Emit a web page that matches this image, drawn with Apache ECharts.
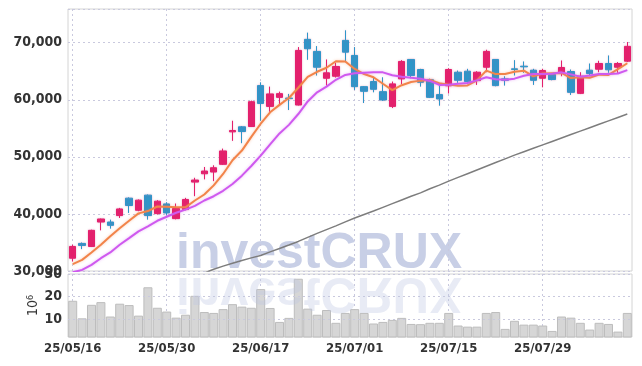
<!DOCTYPE html>
<html><head><meta charset="utf-8">
<script src="https://cdn.jsdelivr.net/npm/echarts@6/dist/echarts.min.js"></script>
<style>html,body{margin:0;padding:0;background:#fff}#c{width:642px;height:366px}</style>
</head><body><div id="c"></div>
<script>
const dates = ['25/05/16','25/05/19','25/05/20','25/05/21','25/05/22','25/05/23','25/05/26','25/05/27','25/05/28','25/05/29',
'25/05/30','25/06/02','25/06/04','25/06/05','25/06/09','25/06/10','25/06/11','25/06/12','25/06/13','25/06/16',
'25/06/17','25/06/18','25/06/19','25/06/20','25/06/23','25/06/24','25/06/25','25/06/26','25/06/27','25/06/30',
'25/07/01','25/07/02','25/07/03','25/07/04','25/07/07','25/07/08','25/07/09','25/07/10','25/07/11','25/07/14',
'25/07/15','25/07/16','25/07/17','25/07/18','25/07/21','25/07/22','25/07/23','25/07/24','25/07/25','25/07/28',
'25/07/29','25/07/30','25/07/31','25/08/01','25/08/04','25/08/05','25/08/06','25/08/07','25/08/08','25/08/11'];
const openP  = [32240,34830,34300,38580,38580,39710,42760,40640,43290,40060,41750,39180,40770,45580,47040,47340,48690,54380,55260,55310,
62480,58840,60420,60300,59080,70580,68470,63770,64120,70400,67760,62300,63190,61420,58840,63660,67060,65300,63500,60900,
62450,64820,65000,63360,65700,67060,63660,65420,65880,65180,63770,64420,64820,64950,61120,65180,65350,66350,65700,66760];
const closeP = [34300,34480,37120,39110,38000,40870,41470,42410,39710,42230,40170,40950,42530,45930,47510,48090,51030,54610,54430,59660,
59360,61020,61070,60200,68640,68940,65700,64720,65830,68340,62300,61480,61830,59960,62780,66710,64240,63060,60420,60140,
65300,63410,63190,64820,68470,62480,63410,65300,65770,63410,65120,63540,65650,61300,64120,64590,66350,65250,66350,69350];
const lowP   = [31660,33830,34200,37120,37420,39290,40170,40470,39000,39890,39760,39050,40640,43110,46050,45750,48570,52800,52390,55260,
56320,57900,58960,58200,59000,67000,64240,62480,63890,66700,61720,59430,61300,59800,58550,62710,63770,62300,60300,58960,
61100,62960,62780,62600,64820,62360,62480,64240,64720,62600,62180,63410,64120,60840,61000,64120,64820,64720,64720,66600];
const highP  = [34600,35000,37240,39180,39000,41050,42900,42530,43410,42410,42050,41820,42810,46330,48220,48520,51440,56320,55400,59840,
63060,62300,61420,61020,69230,71760,69400,67060,66480,72170,69230,62400,63940,63940,63190,66940,67100,65420,63700,62780,
65530,65120,65420,65000,68760,67060,64120,66940,66710,65420,65420,64590,66880,65300,64820,66350,66830,67760,66600,70110];
const ma5 = [31200,31950,33250,34600,36100,37500,38800,40100,40500,41300,41250,41150,41150,42350,43400,45000,47000,49400,51100,53500,
55800,57800,59100,60300,62100,64000,64900,65600,66750,66700,65400,64500,63950,62800,61700,62550,63100,63350,63450,62900,
62650,62450,62500,63400,65100,64500,64500,64900,65100,64100,64600,64650,64700,63800,63950,63850,64400,64350,65350,66400];
const ma10 = [29780,30200,31080,32240,33250,34600,35770,36950,37830,38800,39500,40200,40750,41400,42350,43100,44050,45250,46700,48400,
50200,52200,54100,55600,57500,59700,61300,62300,63500,64350,64650,64750,64800,64800,64300,64050,63850,63700,63300,62600,
62650,62800,62950,63400,63950,63600,63500,63700,64200,64500,64500,64550,64800,64450,64050,64250,64500,64500,64600,65200];
const maLong = [null,null,null,null,null,null,null,null,null,null,null,null,null,null,29650,30300,30850,31350,31850,32300,
32720,33350,33950,34550,35180,35900,36600,37250,37900,38600,39290,39900,40500,41150,41800,42450,43100,43690,44400,45050,
45750,46400,47050,47700,48350,49000,49650,50300,50900,51500,52090,52700,53300,53900,54500,55100,55700,56300,56900,57500];
const volume = [18.1,10.3,16.3,17.5,11.1,16.8,16.2,11.5,24.1,15.0,13.3,10.6,11.9,20.3,13.1,12.7,14.4,16.6,15.5,15.0,
23.3,14.9,8.7,10.5,27.9,14.6,11.9,14.0,8.3,12.7,14.4,12.7,8.0,8.7,9.6,10.5,7.8,7.7,8.3,8.3,
12.7,7.1,6.6,6.6,12.7,13.1,5.6,9.2,7.5,7.5,7.1,4.7,11.1,10.6,8.3,5.3,8.3,7.8,4.4,12.7];
const priceTicks = [30000,40000,50000,60000,70000];
const volTicks = [10,20,30];

const FONT = "'Liberation Sans Narrow','DejaVu Sans Condensed',sans-serif";
const candles = openP.map((o,i)=>[o, closeP[i], lowP[i], highP[i]]);
const chart = echarts.init(document.getElementById('c'), null, {renderer:'canvas'});
const gridLine = {show:true, lineStyle:{color:'#c9c9de', type:[2,3], width:1}};
chart.setOption({
  animation:false,
  backgroundColor:'#fff',
  grid:[
    {left:68, right:10, top:9, height:262, show:true, borderColor:'#d4d4d4', borderWidth:1},
    {left:68, right:10, top:274, height:63, show:true, borderColor:'#d4d4d4', borderWidth:1}
  ],
  xAxis:[
    {type:'category', data:dates, gridIndex:0, boundaryGap:true,
     axisLine:{show:false}, axisTick:{show:false}, axisLabel:{show:false},
     splitLine:Object.assign({interval:9, alignWithLabel:true}, gridLine)},
    {type:'category', data:dates, gridIndex:1, boundaryGap:true,
     axisLine:{show:false}, axisTick:{show:false},
     axisLabel:{interval:9, margin:5, fontFamily:FONT, fontSize:13, fontWeight:'bold', color:'#333'},
     splitLine:Object.assign({interval:9, alignWithLabel:true}, gridLine)}
  ],
  yAxis:[
    {type:'value', gridIndex:0, min:priceTicks[0], max:75900, interval:10000,
     axisLine:{show:false}, axisTick:{show:false},
     axisLabel:{margin:6, showMaxLabel:false, fontFamily:FONT, fontSize:14, fontWeight:'bold', color:'#333',
       formatter:v=>v.toLocaleString('en-US')},
     splitLine:gridLine},
    {type:'value', gridIndex:1, min:2, max:30, interval:2,
     axisLine:{show:false}, axisTick:{show:false},
     axisLabel:{margin:6, fontFamily:FONT, fontSize:14, fontWeight:'bold', color:'#333',
       formatter:v=>volTicks.indexOf(v)>=0 ? String(v) : ''},
     splitLine:{show:false},
     name:'10{s|6}', nameLocation:'middle', nameGap:28, nameRotate:90, nameMoveOverlap:false,
     nameTextStyle:{fontFamily:FONT, fontSize:14, color:'#333', rich:{s:{fontSize:9, verticalAlign:'top', fontFamily:FONT, color:'#333'}}}}
  ],
  series:[
    {type:'bar', xAxisIndex:1, yAxisIndex:1, data:volume, barCategoryGap:'4%',
     itemStyle:{color:'#d6d6d6', borderColor:'#bdbdbd', borderWidth:1},
     markLine:{silent:true, symbol:'none', label:{show:false}, lineStyle:{color:'#c9c9de', type:[2,3], width:1},
       data:volTicks.map(v=>({yAxis:v}))}, z:1},
    {type:'candlestick', xAxisIndex:0, yAxisIndex:0, data:candles, barWidth:7,
     itemStyle:{color:'#e41f6c', color0:'#2e96c9', borderColor:'#e41f6c', borderColor0:'#2e96c9', borderWidth:1,
       shadowColor:'rgba(200,80,140,0.35)', shadowBlur:2}, z:3},
    {type:'line', xAxisIndex:0, yAxisIndex:0, data:ma5, symbol:'none', smooth:false,
     lineStyle:{color:'#f2844a', width:2, shadowColor:'rgba(242,132,74,0.4)', shadowBlur:3}, z:4},
    {type:'line', xAxisIndex:0, yAxisIndex:0, data:ma10, symbol:'none',
     lineStyle:{color:'#cf59ef', width:2, shadowColor:'rgba(207,89,239,0.4)', shadowBlur:3}, z:4},
    {type:'line', xAxisIndex:0, yAxisIndex:0, data:maLong, symbol:'none', connectNulls:false,
     lineStyle:{color:'#7d7d7d', width:1.5}, z:4}
  ],
  graphic:[
    {type:'text', x:176, y:279, z:0, silent:true,
     style:{text:'investCRUX', font:"bold 50px 'Liberation Sans',sans-serif", fill:'#c8cfe6', verticalAlign:'bottom', align:'left'}},
    {type:'text', x:176, y:267, scaleY:-1, z:10, silent:true,
     style:{text:'investCRUX', font:"bold 50px 'Liberation Sans',sans-serif", fill:'rgba(190,198,226,0.35)', verticalAlign:'bottom', align:'left'}}
  ]
});
</script></body></html>
